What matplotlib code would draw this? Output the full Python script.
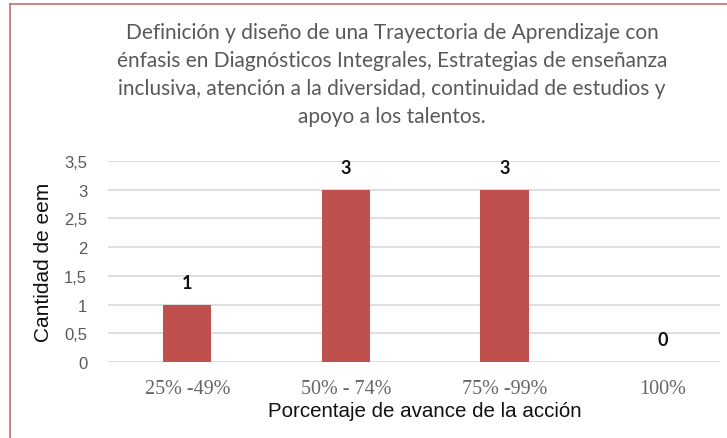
import matplotlib
matplotlib.use('Agg')
import matplotlib.pyplot as plt
from matplotlib.lines import Line2D

categorias = ['25% -49%', '50% - 74%', '75% -99%', '100%']
cantidad = [1, 3, 3, 0]
yticks = [0, 0.5, 1, 1.5, 2, 2.5, 3, 3.5]
ytick_labels = ['0', '0,5', '1', '1,5', '2', '2,5', '3', '3,5']

titulo = ('Definición y diseño de una Trayectoria de Aprendizaje con\n'
          'énfasis en Diagnósticos Integrales, Estrategias de enseñanza\n'
          'inclusiva, atención a la diversidad, continuidad de estudios y\n'
          'apoyo a los talentos.')

fig = plt.figure(figsize=(7.27, 4.39), dpi=100)
ax = fig.add_axes([108 / 727, 76 / 439, 612 / 727, 201 / 439])

x = range(len(categorias))
ax.bar(x, cantidad, width=0.305, color='#c0504d', zorder=3)
for xi, v in zip(x, cantidad):
    ax.annotate(str(v), (xi, v), xytext=(0, 10), textcoords='offset points',
                ha='center', va='bottom', fontsize=13, family='Lato',
                fontweight='bold', color='#111111')

ax.set_xlim(-0.5, 3.36)
ax.set_ylim(0, 3.5)
ax.set_yticks(yticks)
ax.set_yticklabels(ytick_labels, family='Liberation Sans', fontsize=12, color='#595959')
ax.set_xticks(list(x))
ax.set_xticklabels(categorias, family='Liberation Serif', fontsize=14.5, color='#666666')
ax.tick_params(axis='y', length=0, pad=15)
ax.tick_params(axis='x', length=0, pad=12.5)
ax.grid(axis='y', color='#d9d9d9', linewidth=1.2, zorder=0)
for s in ax.spines.values():
    s.set_visible(False)

ax.set_ylabel('Cantidad de eem', family='Liberation Sans', fontsize=15, color='#111111')
ax.yaxis.set_label_coords((53 - 108) / 612, 0.5)
ax.set_xlabel('Porcentaje de avance de la acción', family='Liberation Sans',
              fontsize=14.8, color='#111111')
ax.xaxis.set_label_coords((425 - 108) / 612, (363 - 402) / 201)

fig.text(392 / 727, 1 - 75 / 439, titulo, ha='center', va='center',
         family='Lato', fontsize=15, color='#595959', linespacing=1.52)

# borde del grafico
fig.add_artist(Line2D([10 / 727, 10 / 727], [0, 1 - 5 / 439], color='#c97a78', linewidth=1.3))
fig.add_artist(Line2D([10 / 727, 1], [1 - 5 / 439, 1 - 5 / 439], color='#c97a78', linewidth=1.3))

fig.savefig('out.png', dpi=100)
